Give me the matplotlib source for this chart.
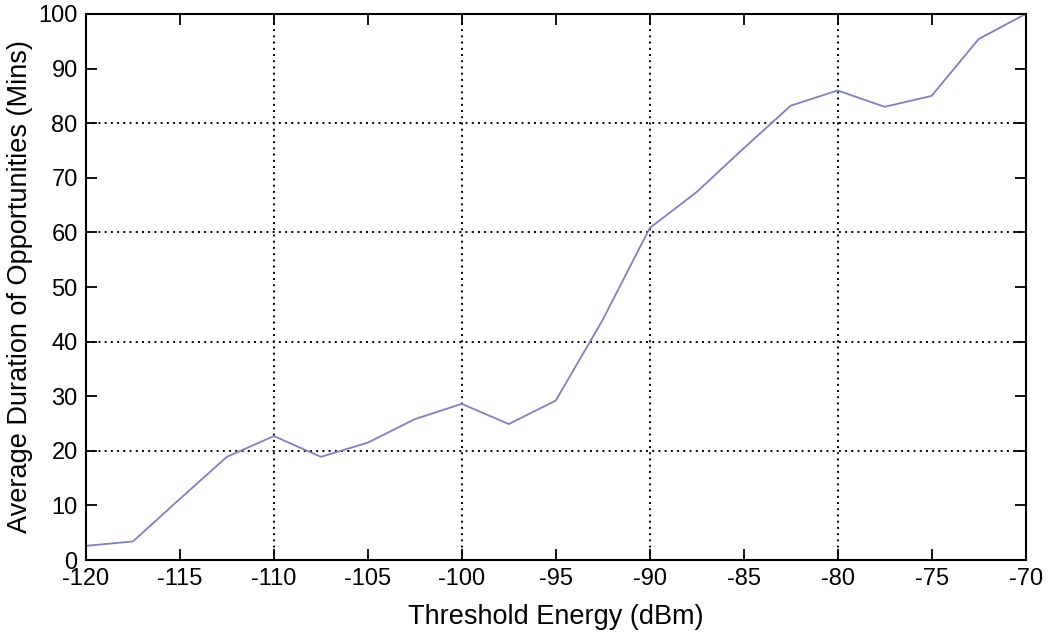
import numpy as np
import matplotlib.pyplot as plt

plt.rcParams['font.family'] = ['Liberation Sans', 'DejaVu Sans']

# threshold energy (dBm) and average duration (mins)
threshold = [-120, -117.5, -115, -112.5, -110, -107.5, -105, -102.5, -100, -97.5, -95,
             -92.5, -90, -87.5, -85, -82.5, -80, -77.5, -75, -72.5, -70]
duration = [2.6, 3.4, 11.2, 18.9, 22.7, 18.9, 21.5, 25.8, 28.6, 24.9, 29.2,
            44, 60.8, 67.4, 75.4, 83.2, 86.0, 83.0, 85.0, 95.4, 100]

xticks = np.arange(-120, -69, 5)
yticks = np.arange(0, 101, 10)
xgrid = [-110, -100, -90, -80]
ygrid = [20, 40, 60, 80]

fig = plt.figure(figsize=(10.51, 6.39), dpi=100)
ax = fig.add_axes([0.0818, 0.1236, 0.894, 0.8545])

# dotted grid only on every other tick
for g in xgrid:
    ax.axvline(g, color="black", linestyle=(0, (1, 2.2)), linewidth=1.4, zorder=1)
for g in ygrid:
    ax.axhline(g, color="black", linestyle=(0, (1, 2.2)), linewidth=1.4, zorder=1)

ax.plot(threshold, duration, color="#8080bb", linewidth=1.3, zorder=2)

ax.set_xlim(-120, -70)
ax.set_ylim(0, 100)
ax.set_xticks(xticks)
ax.set_yticks(yticks)
ax.set_xticklabels([str(t) for t in xticks], fontsize=17)
ax.set_yticklabels([str(t) for t in yticks], fontsize=17)

ax.tick_params(direction="in", length=8, width=1.3,
               top=True, right=True, pad=6)

for s in ax.spines.values():
    s.set_linewidth(1.5)

ax.set_xlabel("Threshold Energy (dBm)", fontsize=19.5, labelpad=10)
ax.set_ylabel("Average Duration of Opportunities (Mins)", fontsize=19.5, labelpad=4)

fig.savefig("out.png", dpi=100)
